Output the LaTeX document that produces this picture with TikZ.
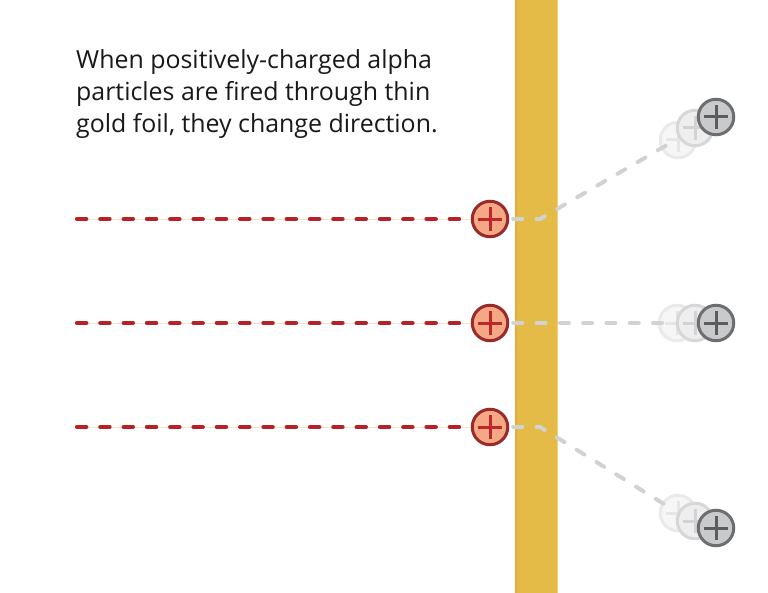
\documentclass[tikz,border=0pt]{standalone}
\usepackage{fontspec}
\setmainfont{Open Sans}
\begin{document}
\begin{tikzpicture}[x=1bp,y=-1bp,
  plus/.style={line width=3bp,line cap=butt},
  alpha/.style={circle,draw=alphaedge,fill=alphafill,line width=3bp,minimum size=35.5bp,inner sep=0pt,
    path picture={\draw[plus,alphaplus]
      ([xshift=-12bp]path picture bounding box.center)--([xshift=12bp]path picture bounding box.center)
      ([yshift=-12bp]path picture bounding box.center)--([yshift=12bp]path picture bounding box.center);}},
  final/.style={circle,draw=grayedge,fill=grayfill,line width=3bp,minimum size=35.5bp,inner sep=0pt,
    path picture={\draw[plus,grayplus]
      ([xshift=-12bp]path picture bounding box.center)--([xshift=12bp]path picture bounding box.center)
      ([yshift=-12bp]path picture bounding box.center)--([yshift=12bp]path picture bounding box.center);}},
  ghostA/.style={circle,draw=gaedge,fill=gafill,line width=3bp,minimum size=35.5bp,inner sep=0pt,
    path picture={\draw[plus,gaplus]
      ([xshift=-12bp]path picture bounding box.center)--([xshift=12bp]path picture bounding box.center)
      ([yshift=-12bp]path picture bounding box.center)--([yshift=12bp]path picture bounding box.center);}},
  ghostB/.style={circle,draw=gbedge,fill=gbfill,line width=3bp,minimum size=35.5bp,inner sep=0pt,
    path picture={\draw[plus,gbplus]
      ([xshift=-12bp]path picture bounding box.center)--([xshift=12bp]path picture bounding box.center)
      ([yshift=-12bp]path picture bounding box.center)--([yshift=12bp]path picture bounding box.center);}},
  reddash/.style={draw=beamred,line width=4.2bp,line cap=round,dash pattern=on 9.3bp off 14bp},
  graydash/.style={draw=pathgray,line width=4bp,line cap=round,dash pattern=on 9bp off 14.3bp},
  faint/.style={draw=beamfaint,line width=1bp},
  caption/.style={font=\fontsize{25}{32}\selectfont,anchor=base west,inner sep=0pt,text=black!90}
]
\definecolor{alphaedge}{HTML}{9B2A2C}
\definecolor{alphafill}{HTML}{F4A884}
\definecolor{alphaplus}{HTML}{C0272D}
\definecolor{grayedge}{HTML}{6D6E71}
\definecolor{grayfill}{HTML}{C9CACC}
\definecolor{grayplus}{HTML}{5B5C5F}
\definecolor{gaedge}{HTML}{D6D7D8}
\definecolor{gafill}{HTML}{EEEEEF}
\definecolor{gaplus}{HTML}{D3D3D5}
\definecolor{gbedge}{HTML}{EAEAEB}
\definecolor{gbfill}{HTML}{F6F6F6}
\definecolor{gbplus}{HTML}{E6E6E7}
\definecolor{beamred}{HTML}{B52228}
\definecolor{beamfaint}{HTML}{FBE2C4}
\definecolor{pathgray}{HTML}{D1D2D4}
\definecolor{foil}{HTML}{E5BB47}
\definecolor{foilleft}{HTML}{F0A83A}
\definecolor{foilright}{HTML}{F9CA78}

\useasboundingbox (0,0) rectangle (768,593);
\fill[white] (0,0) rectangle (768,593);

% caption
\node[caption] (t1) at (76,69) {When positively-charged alpha};
\node[caption] (t2) at (76,101) {particles are fired through thin};
\node[caption] (t3) at (76,133) {gold foil, they change direction.};

% beam start coordinates
\coordinate (s1) at (77,219);
\coordinate (s2) at (77,323);
\coordinate (s3) at (77,427);

% alpha particles at foil
\node[alpha] (a1) at (490,219) {};
\node[alpha] (a2) at (490,323) {};
\node[alpha] (a3) at (490,427) {};

% incoming beams
\foreach \i in {1,2,3}{
  \draw[faint] (s\i) -- (a\i.west);
  \draw[reddash] (s\i) -- ([xshift=-8bp]a\i.west);
}

% foil
\fill[foil] (515,0) rectangle (558,593);
\fill[foilleft] (515,0) rectangle (516.5,593);
\fill[foilright] (556.5,0) rectangle (558,593);

% bends
\coordinate (b1) at (540,219);
\coordinate (b3) at (540,427);

% ghosts and final
\node[ghostB] (g1b) at (678,140) {};
\node[ghostA] (g1a) at (695,128) {};
\node[final] (f1) at (716,117) {};

\node[ghostB] (g2b) at (677,323) {};
\node[ghostA] (g2a) at (695,323) {};
\node[final] (f2) at (716,323) {};

\node[ghostB] (g3b) at (678,513) {};
\node[ghostA] (g3a) at (695,521) {};
\node[final] (f3) at (716,528) {};

% deflected paths
\coordinate (e1) at (672,142);
\coordinate (e2) at (668,323);
\coordinate (e3) at (672,509);
\draw[graydash] ([xshift=4bp]a1.east) -- (b1) -- (e1);
\draw[graydash] ([xshift=4bp]a2.east) -- (e2);
\draw[graydash] ([xshift=4bp]a3.east) -- (b3) -- (e3);
\end{tikzpicture}
\end{document}
